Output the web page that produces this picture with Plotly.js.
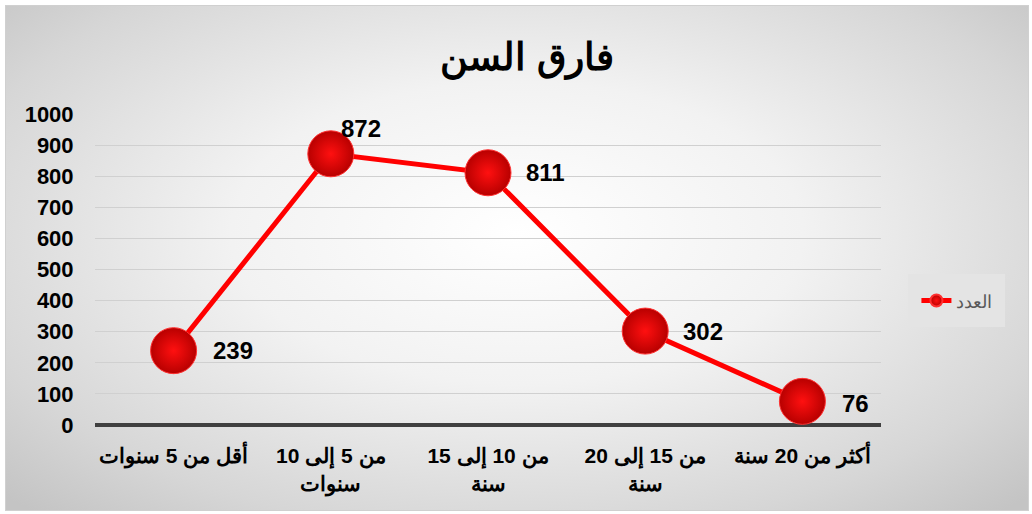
<!DOCTYPE html>
<html><head><meta charset="utf-8">
<script src="https://cdn.plot.ly/plotly-3.0.1.min.js"></script>
<style>
html,body{margin:0;padding:0;background:#fff;}
#wrap{position:absolute;left:5px;top:5px;width:1022px;height:504px;border:1px solid #d0d0d0;
background:radial-gradient(ellipse 70% 75% at 50% 45%, #ffffff 0%, #f2f2f2 40%, #d6d6d6 80%, #c4c4c4 100%);}
#chart{width:1022px;height:504px;}
</style></head><body>
<div id="wrap"><div id="chart"></div></div>
<script>
var categories = ["أقل من 5 سنوات", "من 5 إلى 10<br>سنوات", "من 10 إلى 15<br>سنة", "من 15 إلى 20<br>سنة", "أكثر من 20 سنة"];
var values = [239, 872, 811, 302, 76];
var seriesName = "العدد";
var yTicks = [0,100,200,300,400,500,600,700,800,900,1000];

// label placement (styling only): pixel shifts from each point
var labelXShift = [37, 8, 36, 36, 38];
var labelYShift = [0, 25, 0, 0, -2];

var FONT = 'Liberation Sans, Arial';
var trace = {
  x: categories, y: values, type: 'scatter', mode: 'lines+markers', name: seriesName,
  line: {color: '#ff0000', width: 5},
  marker: {size: 46, color: '#b80000', gradient: {type: 'radial', color: '#ff1010'}, line: {width: 1, color: '#ff3030'}},
  cliponaxis: false
};
var annotations = values.map(function(v, i){
  return {x: categories[i], y: v, xref: 'x', yref: 'y', text: '<b>' + v + '</b>', showarrow: false,
          xanchor: 'left', yanchor: 'middle', xshift: labelXShift[i], yshift: labelYShift[i],
          font: {family: FONT, size: 24, color: '#000'}};
});
var layout = {
  width: 1022, height: 504,
  paper_bgcolor: 'rgba(0,0,0,0)', plot_bgcolor: 'rgba(0,0,0,0)',
  margin: {l: 89, r: 147, t: 108, b: 85},
  title: {text: '<b>فارق السن</b>', x: 0.51, xanchor: 'center', y: 0.9, yanchor: 'middle',
          font: {family: FONT, size: 38, color: '#000'}},
  xaxis: {type: 'category', showgrid: false, zeroline: false, showline: false,
          ticks: 'outside', ticklen: 12, tickcolor: 'rgba(0,0,0,0)',
          tickfont: {family: FONT, size: 21, color: '#000', weight: 'bold'},
          range: [-0.5, 4.5]},
  yaxis: {range: [0, 1000], tickvals: yTicks, showgrid: true, gridcolor: '#d0d0d0', gridwidth: 1,
          zeroline: true, zerolinecolor: '#404040', zerolinewidth: 4,
          ticks: 'outside', ticklen: 16, tickcolor: 'rgba(0,0,0,0)',
          tickfont: {family: FONT, size: 22, color: '#000', weight: 'bold'}},
  annotations: annotations,
  showlegend: true,
  legend: {xref: 'container', yref: 'container', x: 0.883, xanchor: 'left', y: 0.415, yanchor: 'middle',
           bgcolor: '#e4e4e4', bordercolor: '#e4e4e4', borderwidth: 8,
           font: {family: FONT, size: 18, color: '#595959'}, itemsizing: 'constant'}
};
Plotly.newPlot('chart', [trace], layout, {displayModeBar: false});
</script>
</body></html>
